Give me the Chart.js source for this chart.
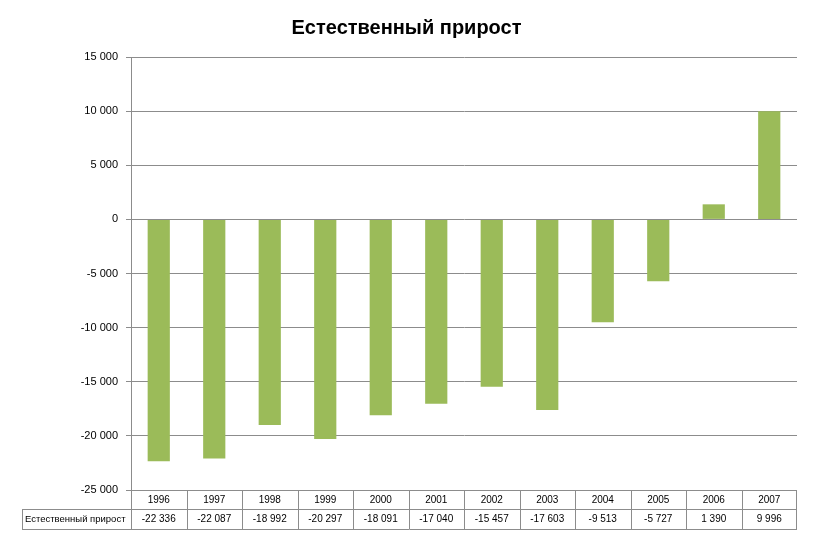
<!DOCTYPE html>
<html>
<head>
<meta charset="utf-8">
<script src="https://cdn.jsdelivr.net/npm/chart.js@4"></script>
<style>
  body { margin: 0; background: #fff; }
  #wrap { width: 813px; height: 542px; }
</style>
</head>
<body>
<div id="wrap"><canvas id="growthChart"></canvas></div>
<script>
var years = ["1996", "1997", "1998", "1999", "2000", "2001", "2002", "2003", "2004", "2005", "2006", "2007"];
var growth = [-22336, -22087, -18992, -20297, -18091, -17040, -15457, -17603, -9513, -5727, 1390, 9996];
var seriesName = "Естественный прирост";

function fmt(v) {
  var s = String(Math.abs(v)).replace(/\B(?=(\d{3})+(?!\d))/g, " ");
  return (v < 0 ? "-" : "") + s;
}

// draws the data table under the plot, columns follow the x scale
var dataTable = {
  id: "dataTable",
  afterDraw: function (chart) {
    var ctx = chart.ctx;
    var x = chart.scales.x;
    var area = chart.chartArea;
    var top = area.bottom, mid = top + 19, bot = mid + 20;
    var left = 22;
    ctx.save();
    ctx.strokeStyle = "#8c8c8c";
    ctx.lineWidth = 1;
    ctx.beginPath();
    ctx.moveTo(area.left, top + 0.5); ctx.lineTo(area.right, top + 0.5);
    ctx.moveTo(left, mid + 0.5); ctx.lineTo(area.right, mid + 0.5);
    ctx.moveTo(left, bot + 0.5); ctx.lineTo(area.right, bot + 0.5);
    ctx.moveTo(left + 0.5, mid); ctx.lineTo(left + 0.5, bot);
    var step = (area.right - area.left) / years.length;
    for (var i = 0; i <= years.length; i++) {
      var xx = Math.round(area.left + step * i) + 0.5;
      if (i === years.length) xx = area.right - 0.5;
      ctx.moveTo(xx, top); ctx.lineTo(xx, bot);
    }
    ctx.stroke();

    ctx.fillStyle = "#000";
    ctx.font = "10px 'Liberation Sans', Arial";
    ctx.textBaseline = "middle";
    ctx.textAlign = "center";
    years.forEach(function (y, i) {
      var cx = x.getPixelForValue(i);
      ctx.fillText(y, cx, top + 10);
      ctx.fillText(fmt(growth[i]), cx, mid + 10.5);
    });
    ctx.textAlign = "left";
    ctx.font = "9.5px 'Liberation Sans Narrow', 'Liberation Sans', Arial";
    ctx.fillText(seriesName, left + 3, mid + 10.5);
    ctx.restore();
  }
};

var ctx = document.getElementById("growthChart").getContext("2d");
var myChart = new Chart(ctx, {
  type: "bar",
  data: {
    labels: years,
    datasets: [{
      label: seriesName,
      data: growth,
      backgroundColor: "#9bbb59",
      borderWidth: 0,
      barPercentage: 0.4,
      categoryPercentage: 1
    }]
  },
  options: {
    responsive: true,
    maintainAspectRatio: false,
    animation: false,
    layout: { padding: { top: 2, right: 16, left: 16, bottom: 0 } },
    plugins: {
      legend: { display: false },
      tooltip: { enabled: false },
      title: {
        display: true,
        text: "Естественный прирост",
        color: "#000",
        font: { family: "'Liberation Sans', Arial", size: 20, weight: "bold" },
        padding: { top: 14, bottom: 17 }
      }
    },
    scales: {
      x: {
        grid: { display: false, drawTicks: false },
        border: { display: false },
        ticks: { display: false },
        afterFit: function (scale) { scale.height = 52; }
      },
      y: {
        min: -25000,
        max: 15000,
        ticks: {
          stepSize: 5000,
          color: "#000",
          padding: 8,
          font: { family: "'Liberation Sans', Arial", size: 11 },
          callback: function (v) { return fmt(v); }
        },
        grid: { color: "#8c8c8c", tickLength: 5, tickColor: "#8c8c8c" },
        border: { color: "#8c8c8c" },
        afterFit: function (scale) { scale.width = 115; }
      }
    }
  },
  plugins: [dataTable]
});
</script>
</body>
</html>
